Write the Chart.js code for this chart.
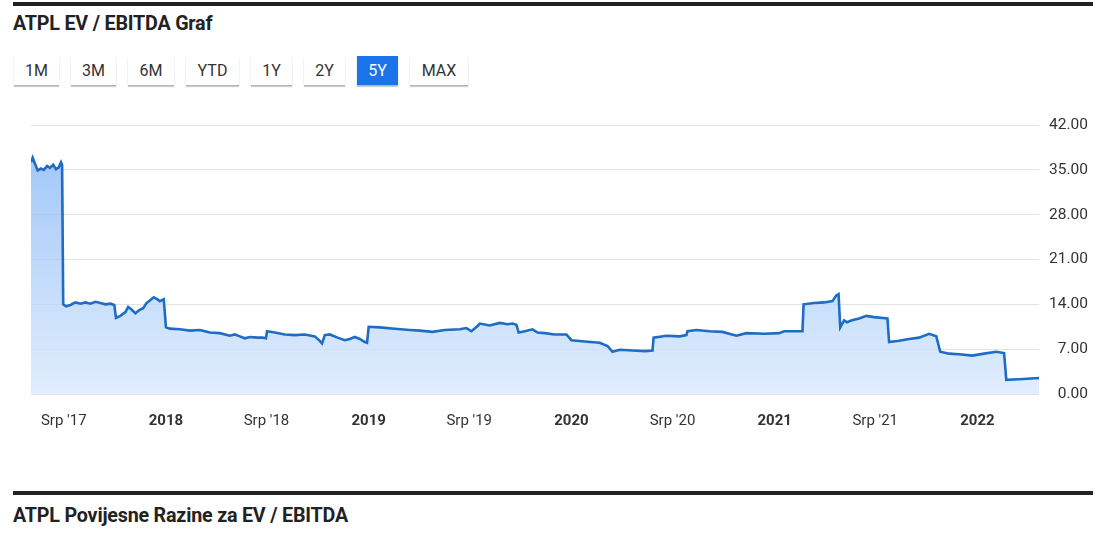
<!DOCTYPE html>
<html>
<head>
<meta charset="utf-8">
<script src="https://cdn.jsdelivr.net/npm/chart.js@4.4.0/dist/chart.umd.min.js"></script>
<style>
  body { margin: 0; background: #fff; font-family: Roboto, "Noto Sans", sans-serif; color: #222; }
  .rule { position: absolute; left: 13px; width: 1080px; height: 4px; background: #222; }
  h2 { position: absolute; left: 13px; margin: 0; font-size: 19.7px; font-weight: 700; letter-spacing: -0.2px; }
  .btns { position: absolute; left: 14px; top: 56px; display: flex; gap: 12px; }
  .btns button {
    font-family: Roboto, sans-serif; font-size: 16px; color: #333; background: #fff;
    border: none; height: 29px; padding: 0;
    box-shadow: 0 1px 1px rgba(0,0,0,0.12), 0 2px 1px rgba(0,0,0,0.18);
  }
  .btns button.active { background: #1a73e8; color: #fff; }
  #wrap { position: absolute; left: 0; top: 100px; width: 1100px; height: 340px; }
</style>
</head>
<body>
<div class="rule" style="top:2px"></div>
<h2 style="top:12px">ATPL EV / EBITDA Graf</h2>
<div class="btns">
  <button style="width:45px">1M</button><button style="width:45px">3M</button>
  <button style="width:46px">6M</button><button style="width:53px">YTD</button>
  <button style="width:41px">1Y</button><button style="width:41px">2Y</button>
  <button style="width:41px" class="active">5Y</button><button style="width:58px">MAX</button>
</div>
<div id="wrap"><canvas id="chartCanvas"></canvas></div>
<div class="rule" style="top:491px"></div>
<h2 style="top:504px">ATPL Povijesne Razine za EV / EBITDA</h2>

<script>
const dates = [
  '2017-05-03','2017-05-06','2017-05-10','2017-05-15','2017-05-21','2017-05-26','2017-06-01','2017-06-06',
  '2017-06-12','2017-06-17','2017-06-22','2017-06-26','2017-06-28','2017-06-30','2017-07-05','2017-07-13',
  '2017-07-22','2017-07-31','2017-08-09','2017-08-18','2017-08-27','2017-09-05','2017-09-14','2017-09-23',
  '2017-09-30','2017-10-03','2017-10-11','2017-10-20','2017-10-25','2017-10-31','2017-11-07','2017-11-14',
  '2017-11-21','2017-11-27','2017-12-03','2017-12-10','2017-12-16','2017-12-21','2017-12-28','2018-01-01',
  '2018-01-08','2018-01-26','2018-02-13','2018-03-03','2018-03-21','2018-04-08','2018-04-26','2018-05-05',
  '2018-05-14','2018-05-23','2018-06-01','2018-06-15','2018-06-24','2018-06-30','2018-07-02','2018-07-16',
  '2018-08-03','2018-08-21','2018-09-08','2018-09-26','2018-10-05','2018-10-09','2018-10-14','2018-10-23',
  '2018-11-06','2018-11-19','2018-11-28','2018-12-07','2018-12-16','2018-12-25','2018-12-29','2019-01-01',
  '2019-01-21','2019-02-17','2019-03-16','2019-04-03','2019-04-26','2019-05-18','2019-06-14','2019-06-26',
  '2019-07-05','2019-07-16','2019-07-20','2019-08-07','2019-08-25','2019-09-08','2019-09-17','2019-09-24',
  '2019-09-28','2019-10-09','2019-10-23','2019-11-01','2019-11-14','2019-12-02','2019-12-23','2020-01-01',
  '2020-01-25','2020-02-21','2020-03-06','2020-03-15','2020-03-28','2020-04-20','2020-05-12','2020-05-26',
  '2020-05-28','2020-06-20','2020-07-14','2020-07-26','2020-07-28','2020-08-13','2020-09-06','2020-09-29',
  '2020-10-24','2020-11-11','2020-12-14','2021-01-09','2021-01-18','2021-02-20','2021-02-22','2021-03-13',
  '2021-03-31','2021-04-15','2021-04-22','2021-04-26','2021-04-29','2021-05-06','2021-05-11','2021-05-20',
  '2021-06-02','2021-06-15','2021-06-29','2021-07-23','2021-07-26','2021-08-13','2021-08-31','2021-09-18',
  '2021-10-06','2021-10-19','2021-10-26','2021-11-11','2021-11-29','2021-12-23','2022-01-13','2022-02-04',
  '2022-02-18','2022-02-22','2022-03-17','2022-04-22'
];
const values = [
  36.2, 36.9, 36.0, 34.9, 35.2, 35.0, 35.6, 35.3,
  35.8, 35.1, 35.4, 36.2, 35.8, 14.0, 13.7, 13.9,
  14.3, 14.1, 14.3, 14.1, 14.4, 14.2, 14.0, 14.1,
  13.9, 11.9, 12.2, 12.8, 13.6, 13.2, 12.6, 13.1,
  13.4, 14.2, 14.6, 15.1, 14.8, 14.5, 14.8, 10.4,
  10.2, 10.1, 9.9, 10.0, 9.6, 9.5, 9.1, 9.3,
  9.0, 8.7, 8.9, 8.8, 8.8, 8.7, 9.8, 9.6,
  9.3, 9.2, 9.3, 9.0, 8.3, 7.9, 9.2, 9.3,
  8.8, 8.4, 8.6, 8.9, 8.6, 8.1, 8.0, 10.5,
  10.4, 10.2, 10.0, 9.9, 9.7, 10.0, 10.1, 10.3,
  9.8, 10.6, 11.0, 10.7, 11.1, 10.9, 11.0, 10.8,
  9.6, 9.8, 10.1, 9.6, 9.5, 9.3, 9.3, 8.4,
  8.2, 8.0, 7.5, 6.6, 6.9, 6.8, 6.7, 6.8,
  8.8, 9.1, 9.0, 9.2, 9.8, 10.0, 9.8, 9.7,
  9.1, 9.5, 9.4, 9.5, 9.8, 9.8, 14.0, 14.2,
  14.3, 14.5, 15.4, 15.6, 10.4, 11.5, 11.2, 11.5,
  11.8, 12.2, 12.0, 11.8, 8.1, 8.3, 8.6, 8.8,
  9.4, 9.0, 6.6, 6.3, 6.2, 6.0, 6.3, 6.6,
  6.4, 2.2, 2.3, 2.5
];
const tickDates = ['2017-07-01','2018-01-01','2018-07-01','2019-01-01','2019-07-01',
                   '2020-01-01','2020-07-01','2021-01-01','2021-07-01','2022-01-01'];
const tickLabels = ["Srp '17", '2018', "Srp '18", '2019', "Srp '19",
                    '2020', "Srp '20", '2021', "Srp '21", '2022'];
const yTicks = [0, 7, 14, 21, 28, 35, 42];

const ts = d => Date.parse(d + 'T00:00:00Z');
const points = dates.map((d, i) => ({ x: ts(d), y: values[i] }));

function areaFill(context) {
  const { ctx, chartArea } = context.chart;
  if (!chartArea) return 'rgba(150,190,245,0.5)';
  const g = ctx.createLinearGradient(0, chartArea.top, 0, chartArea.bottom);
  g.addColorStop(0, 'rgba(120,175,245,0.75)');
  g.addColorStop(1, 'rgba(215,232,252,0.75)');
  return g;
}

new Chart(document.getElementById('chartCanvas'), {
  type: 'line',
  data: {
    datasets: [{
      data: points,
      borderColor: '#1f6cc4',
      borderWidth: 2.6,
      pointRadius: 0,
      tension: 0,
      fill: 'origin',
      backgroundColor: areaFill
    }]
  },
  options: {
    responsive: true,
    maintainAspectRatio: false,
    animation: false,
    layout: { padding: { left: 31, top: 25, right: 12, bottom: 0 } },
    plugins: { legend: { display: false }, tooltip: { enabled: false } },
    scales: {
      x: {
        type: 'linear',
        min: ts(dates[0]),
        max: ts(dates[dates.length - 1]),
        grid: { display: false },
        border: { display: false },
        afterBuildTicks: scale => { scale.ticks = tickDates.map(d => ({ value: ts(d) })); },
        ticks: {
          autoSkip: false,
          maxRotation: 0,
          padding: 10,
          color: '#333',
          font: c => ({ family: 'Roboto', size: 15, weight: /^\d{4}$/.test(tickLabels[c.index]) ? 'bold' : 'normal' }),
          callback: (v, i) => tickLabels[i]
        }
      },
      y: {
        position: 'right',
        min: 0,
        max: 42,
        afterBuildTicks: scale => { scale.ticks = yTicks.map(v => ({ value: v })); },
        grid: { color: '#e3e3e3', drawTicks: false },
        border: { display: false },
        ticks: {
          padding: 5,
          crossAlign: 'far',
          color: '#333',
          font: { family: 'Roboto', size: 15.5 },
          callback: v => Number(v).toFixed(2)
        }
      }
    }
  }
});
</script>
</body>
</html>
